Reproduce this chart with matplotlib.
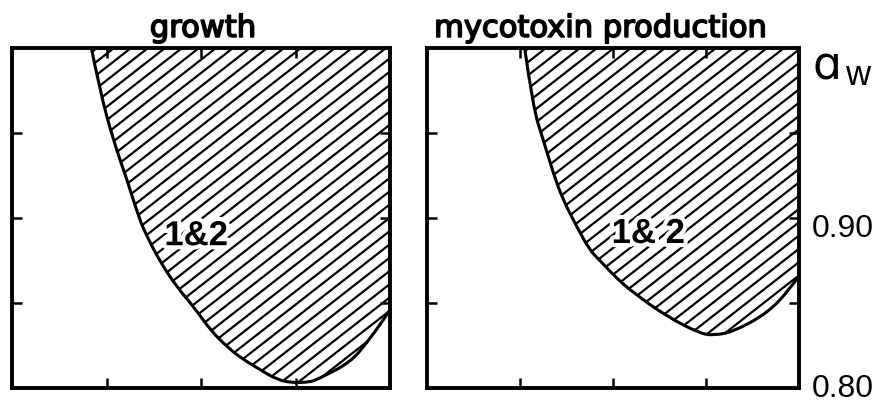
import numpy as np
import matplotlib
matplotlib.use("Agg")
import matplotlib.pyplot as plt
from matplotlib.collections import LineCollection
from matplotlib.path import Path
from matplotlib.patches import PathPatch
import matplotlib.patheffects as pe

# ---- data (temperature axis 0-40, water activity 0.80-1.00) ----
temp_growth = [8.4, 9.3, 10.7, 12.2, 13.5, 14.3, 15.7, 17.5, 19.2, 21.0, 22.8,
               24.4, 26.2, 28.0, 29.7, 31.5, 32.3, 35.8, 37.6, 39.3, 40.0]
aw_growth = [1.000, 0.975, 0.946, 0.922, 0.899, 0.889, 0.874, 0.859, 0.848, 0.834, 0.824,
             0.817, 0.811, 0.805, 0.803, 0.8035, 0.805, 0.815, 0.827, 0.840, 0.846]

temp_toxin = [10.5, 11.4, 12.5, 13.6, 14.6, 16.1, 17.5, 18.6, 20.3, 22.2, 25.8,
              29.4, 30.8, 32.9, 36.6, 39.0, 40.0]
aw_toxin = [1.000, 0.965, 0.946, 0.926, 0.911, 0.895, 0.881, 0.875, 0.865, 0.856, 0.842,
            0.832, 0.831, 0.833, 0.844, 0.858, 0.866]

panel_titles = ["growth", "mycotoxin production"]
region_label = ["1&2", "1& 2"]
x_ticks = [10, 20, 30]
y_ticks = [0.80, 0.85, 0.90, 0.95]
y_label_ticks = [0.80, 0.90]
y_label_text = ["0.80", "0.90"]

fig = plt.figure(figsize=(8.87, 4.03), dpi=100)
fig.patch.set_facecolor("white")
ax1 = fig.add_axes([12/887, 15/403, 378/887, 340/403])
ax2 = fig.add_axes([427/887, 15/403, 372/887, 340/403])


def smooth_path(xs, ys):
    """Quadratic B-spline style Bezier path using the read points as control points."""
    pts = np.column_stack([xs, ys])
    verts = [pts[0]]
    codes = [Path.MOVETO]
    n = len(pts)
    for i in range(1, n - 2):
        verts += [pts[i], (pts[i] + pts[i + 1]) / 2]
        codes += [Path.CURVE3, Path.CURVE3]
    verts += [pts[n - 2], pts[n - 1]]
    codes += [Path.CURVE3, Path.CURVE3]
    return verts, codes


def hatch(ax, clip_path, angle_deg=38, spacing_px=17, lw=1.6):
    w_px, h_px = ax.bbox.width, ax.bbox.height
    s = np.tan(np.radians(angle_deg)) * w_px / h_px
    dx = spacing_px / w_px
    segs = []
    for c in np.arange(-1.0 / s - dx, 1.0 + dx, dx):
        segs.append([(c, 0.0), (c + 1.0 / s, 1.0)])
    lc = LineCollection(segs, transform=ax.transAxes, colors="black",
                        linewidths=lw, zorder=2)
    ax.add_collection(lc)
    lc.set_clip_path(clip_path, ax.transData)


def style(ax):
    ax.set_xlim(0, 40)
    ax.set_ylim(0.80, 1.00)
    ax.set_xticks(x_ticks)
    ax.set_yticks(y_ticks)
    ax.tick_params(which="both", direction="in", length=7, width=1.8,
                   top=True, right=True, bottom=True, left=True,
                   labelbottom=False, labelleft=False, labelright=False,
                   labeltop=False)
    for sp in ax.spines.values():
        sp.set_linewidth(2.8)
        sp.set_zorder(5)


for ax, xs, ys, title, lab, tx, lbl_xy in [
        (ax1, temp_growth, aw_growth, panel_titles[0], region_label[0], 0.505, (19.5, 0.884)),
        (ax2, temp_toxin, aw_toxin, panel_titles[1], region_label[1], 0.465, (23.8, 0.8853))]:
    style(ax)
    verts, codes = smooth_path(xs, ys)
    curve = Path(verts, codes)
    ymax = ax.get_ylim()[1]
    fill_verts = verts + [(xs[-1], ymax), (xs[0], ymax), (xs[0], ys[0])]
    fill_codes = codes + [Path.LINETO, Path.LINETO, Path.CLOSEPOLY]
    region = Path(fill_verts, fill_codes)
    hatch(ax, region)
    ax.add_patch(PathPatch(curve, facecolor="none", edgecolor="black", lw=2.2,
                           capstyle="round", joinstyle="round", zorder=3))
    ax.set_title(title, x=tx, fontsize=22, pad=8, family="DejaVu Sans",
                 path_effects=[pe.withStroke(linewidth=1.2, foreground="black")])
    ax.text(lbl_xy[0], lbl_xy[1], lab, ha="center", va="baseline", fontsize=25,
            fontweight="bold", family="Liberation Sans", zorder=4,
            path_effects=[pe.withStroke(linewidth=6, foreground="white")])

# right-hand water-activity labels
label_offsets = [-0.0055, -0.0112]
for yv, txt, off in zip(y_label_ticks, y_label_text, label_offsets):
    ax2.text(1.035, yv + off, txt, transform=ax2.get_yaxis_transform(),
             fontsize=23, family="Liberation Sans", ha="left", va="baseline",
             clip_on=False)

ax2.text(1.0376, 0.906, "\u0251", transform=ax2.transAxes, fontsize=33,
         family="DejaVu Sans", ha="left", va="baseline")
ax2.text(1.124, 0.891, "w", transform=ax2.transAxes, fontsize=25,
         family="Liberation Sans", ha="left", va="baseline")

fig.savefig("out.png", dpi=100, facecolor="white")
